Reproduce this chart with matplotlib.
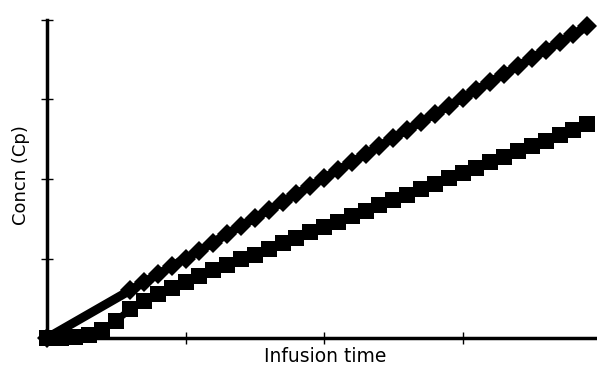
import matplotlib
matplotlib.use("Agg")
import matplotlib.pyplot as plt

# Data (axis units are arbitrary tick units)
x_sq = [0.0, 0.1, 0.2, 0.3, 0.4, 0.5, 0.6, 0.7, 0.8, 0.9,
        1.0, 1.1, 1.2, 1.3, 1.4, 1.5, 1.6, 1.7, 1.8, 1.9,
        2.0, 2.1, 2.2, 2.3, 2.4, 2.5, 2.6, 2.7, 2.8, 2.9,
        3.0, 3.1, 3.2, 3.3, 3.4, 3.5, 3.6, 3.7, 3.8, 3.9]
y_sq = [0.0, 0.0, 0.01, 0.04, 0.10, 0.22, 0.36, 0.46, 0.55, 0.63,
        0.71, 0.78, 0.85, 0.92, 0.99, 1.05, 1.12, 1.19, 1.26, 1.33,
        1.39, 1.46, 1.53, 1.60, 1.67, 1.73, 1.80, 1.87, 1.94, 2.01,
        2.07, 2.14, 2.21, 2.28, 2.35, 2.41, 2.48, 2.55, 2.62, 2.69]

x_di = [0.0, 0.6, 0.7, 0.8, 0.9,
        1.0, 1.1, 1.2, 1.3, 1.4, 1.5, 1.6, 1.7, 1.8, 1.9,
        2.0, 2.1, 2.2, 2.3, 2.4, 2.5, 2.6, 2.7, 2.8, 2.9,
        3.0, 3.1, 3.2, 3.3, 3.4, 3.5, 3.6, 3.7, 3.8, 3.9]
y_di = [0.0, 0.60, 0.70, 0.80, 0.90,
        1.00, 1.10, 1.20, 1.31, 1.41, 1.51, 1.61, 1.71, 1.81, 1.91,
        2.01, 2.11, 2.21, 2.31, 2.41, 2.52, 2.62, 2.72, 2.82, 2.92,
        3.02, 3.12, 3.22, 3.32, 3.42, 3.52, 3.62, 3.72, 3.82, 3.92]

x_ticks = [0, 1, 2, 3]
y_ticks = [0, 1, 2, 3, 4]

W, H = 597, 367
fig = plt.figure(figsize=(W / 100, H / 100), dpi=100)
ax = fig.add_axes([47 / W, (H - 338) / H, (597 - 47) / W, (338 - 20) / H])

# diamond series: thick line with diamond markers (markers begin after origin segment)
ax.plot(x_di, y_di, color="black", lw=6.5, solid_capstyle="butt", clip_on=False, zorder=3)
ax.plot(x_di, y_di, linestyle="none", marker="D", ms=10.5, color="black",
        markeredgewidth=0, clip_on=False, zorder=4)

# square series
ax.plot(x_sq, y_sq, color="black", lw=5, clip_on=False, zorder=3)
ax.plot(x_sq, y_sq, linestyle="none", marker="s", ms=11.5, color="black",
        markeredgewidth=0, clip_on=False, zorder=4)

ax.set_xlim(0, 3.97)
ax.set_ylim(0, 4.0)
ax.set_xticks(x_ticks)
ax.set_yticks(y_ticks)
ax.set_xticklabels([])
ax.set_yticklabels([])
ax.tick_params(direction="inout", length=9, width=1, color="black")

for s in ["top", "right"]:
    ax.spines[s].set_visible(False)
for s in ["left", "bottom"]:
    ax.spines[s].set_linewidth(2.5)
    ax.spines[s].set_color("black")

fig.text(325 / W, 1 - 357 / H, "Infusion time", ha="center", va="center",
         fontsize=13.5, family="DejaVu Sans")
fig.text(21 / W, 1 - 175 / H, "Concn (Cp)", ha="center", va="center",
         rotation=90, fontsize=13, family="DejaVu Sans")

fig.savefig("out.png", dpi=100)
